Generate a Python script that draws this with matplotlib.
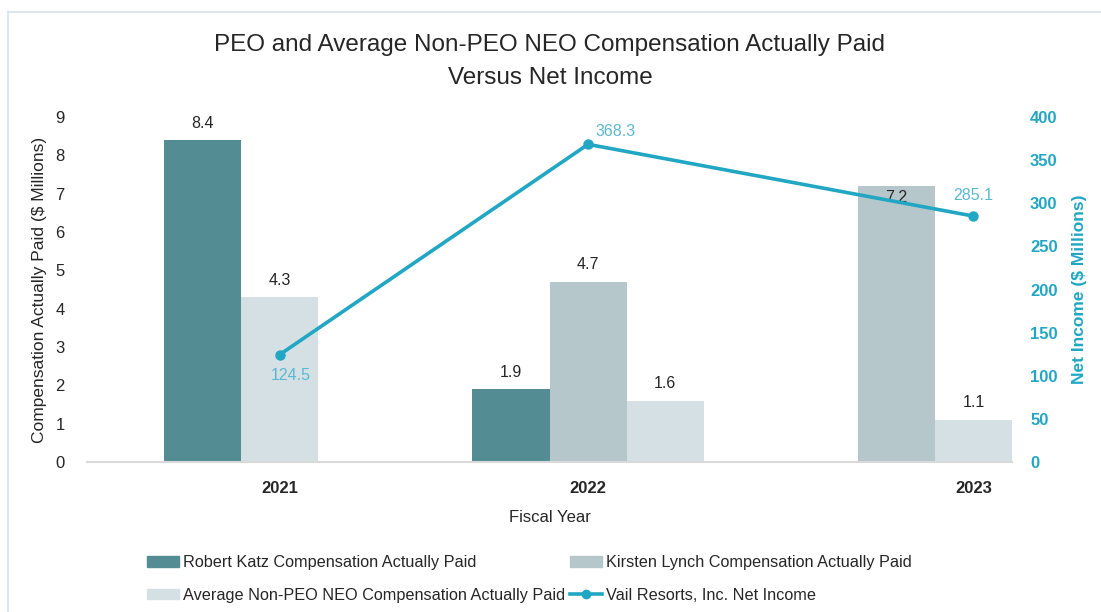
#!/usr/bin/env python3
"""Compensation actually paid vs net income, bars plus a net-income line."""
import matplotlib
matplotlib.use("Agg")
import matplotlib.pyplot as plt
from matplotlib.lines import Line2D

plt.rcParams.update({
    "font.family": ["Liberation Sans", "DejaVu Sans"],
    "font.size": 11,
})

years = ["2021", "2022", "2023"]
katz = [8.4, 1.9, None]
lynch = [None, 4.7, 7.2]
avg_neo = [4.3, 1.6, 1.1]
net_income = [124.5, 368.3, 285.1]

# layout: left edge of each bar on a 12-slot axis, and category centres
KATZ_X = [1, 5, None]
LYNCH_X = [None, 6, 10]
AVG_X = [2, 7, 11]
YEAR_X = [2.5, 6.5, 11.5]

C_KATZ = "#548c94"
C_LYNCH = "#b5c7ca"
C_AVG = "#d5e0e4"
C_LINE = "#21a7c3"
C_LINE_TXT = "#5bb8d0"
C_TEXT = "#262626"

W, H = 1101, 612
fig = plt.figure(figsize=(W / 100, H / 100), dpi=100)

# thin frame visible only along the top and left edges
fig.add_artist(Line2D([8 / W, 8 / W], [0, 1 - 12 / H], color="#d6e2ea", lw=1.2))
fig.add_artist(Line2D([8 / W, 1], [1 - 12 / H, 1 - 12 / H], color="#d6e2ea", lw=1.2))

ax = fig.add_axes([87 / W, 1 - 462 / H, (1012 - 87) / W, (462 - 117) / H])
ax.set_xlim(0, 12)
ax.set_ylim(0, 9)


def draw_series(xs, vals, color, pads):
    px = [x for x, v in zip(xs, vals) if v is not None]
    pv = [v for x, v in zip(xs, vals) if v is not None]
    pp = [p for p, v in zip(pads, vals) if v is not None]
    bars = ax.bar(px, pv, width=1.0, align="edge", color=color, zorder=2)
    for b, v, p in zip(bars, pv, pp):
        ax.annotate(f"{v:.1f}", (b.get_x() + 0.5, v), xytext=(0, p),
                    textcoords="offset pixels", ha="center", va="center",
                    fontsize=11.5, color=C_TEXT, zorder=2.5)
    return bars


draw_series(KATZ_X, katz, C_KATZ, [17, 17, 17])
draw_series(LYNCH_X, lynch, C_LYNCH, [17, 17, -11])
draw_series(AVG_X, avg_neo, C_AVG, [17, 17, 17])

for s in ("top", "right", "left"):
    ax.spines[s].set_visible(False)
ax.spines["bottom"].set_color("#d9d9d9")
ax.spines["bottom"].set_linewidth(1.5)
ax.set_yticks(range(0, 10))
ax.tick_params(axis="y", length=0, pad=16, labelsize=12, labelcolor=C_TEXT)
ax.set_xticks(YEAR_X)
ax.set_xticklabels(years, fontweight="bold", fontsize=12, color=C_TEXT)
ax.tick_params(axis="x", length=0, pad=14)
ax.set_xlabel("Fiscal Year", fontsize=12, color=C_TEXT, labelpad=10)
ax.set_ylabel("Compensation Actually Paid ($ Millions)", fontsize=12.5,
              color=C_TEXT, labelpad=6)

ax2 = ax.twinx()
ax2.set_ylim(0, 400)
ax2.set_yticks(range(0, 401, 50))
for s in ("top", "right", "left", "bottom"):
    ax2.spines[s].set_visible(False)
ax2.tick_params(axis="y", length=0, pad=13, labelsize=12, labelcolor=C_LINE)
for t in ax2.get_yticklabels():
    t.set_fontweight("semibold")
ax2.set_ylabel("Net Income ($ Millions)", fontsize=12.5, color=C_LINE,
               fontweight="semibold", labelpad=10)

ax2.plot(YEAR_X, net_income, color=C_LINE, lw=2.6, marker="o", ms=6.5,
         zorder=3)
offsets = [(11, -21), (27, 13), (0, 21)]
for x, v, off in zip(YEAR_X, net_income, offsets):
    ax2.annotate(f"{v:.1f}", (x, v), xytext=off, textcoords="offset pixels",
                 ha="center", va="center", fontsize=11.5, color=C_LINE_TXT)

fig.text(550 / W, 1 - 45 / H, "PEO and Average Non-PEO NEO Compensation Actually Paid",
         ha="center", va="center", fontsize=17.5, color=C_TEXT)
fig.text(550 / W, 1 - 78 / H, "Versus Net Income",
         ha="center", va="center", fontsize=17.5, color=C_TEXT)

handles = [
    plt.Rectangle((0, 0), 1, 1, color=C_KATZ),
    plt.Rectangle((0, 0), 1, 1, color=C_AVG),
    plt.Rectangle((0, 0), 1, 1, color=C_LYNCH),
    Line2D([], [], color=C_LINE, lw=2.6, marker="o", ms=6),
]
labels = [
    "Robert Katz Compensation Actually Paid",
    "Average Non-PEO NEO Compensation Actually Paid",
    "Kirsten Lynch Compensation Actually Paid",
    "Vail Resorts, Inc. Net Income",
]
fig.legend(handles, labels, ncol=2, frameon=False, fontsize=11.7,
           loc="center left", bbox_to_anchor=(147 / W, 1 - 579 / H),
           borderaxespad=0, borderpad=0,
           handlelength=1.97, handleheight=0.62, handletextpad=0.25,
           columnspacing=0.3, labelspacing=1.1, labelcolor=C_TEXT)

fig.savefig("out.png", dpi=100)
